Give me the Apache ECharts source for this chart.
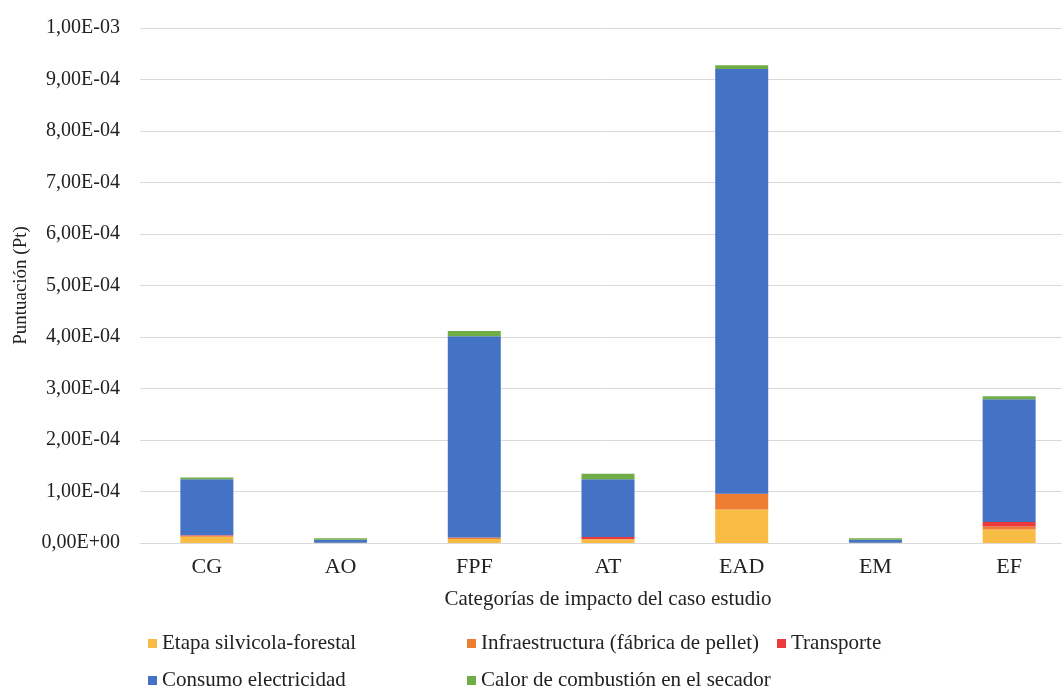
<!DOCTYPE html>
<html>
<head>
<meta charset="utf-8">
<script src="https://cdn.jsdelivr.net/npm/echarts@6/dist/echarts.min.js"></script>
<style>
html,body{margin:0;padding:0;background:#fff;}
#chart{width:1062px;height:688px;}
</style>
</head>
<body>
<div id="chart"></div>
<script>
var categories = ['CG', 'AO', 'FPF', 'AT', 'EAD', 'EM', 'EF'];
var seriesNames = ['Etapa silvicola-forestal', 'Infraestructura (fábrica de pellet)', 'Transporte', 'Consumo electricidad', 'Calor de combustión en el secador'];
var etapa        = [1.2e-5, 2e-7, 8e-6, 6.6e-6, 6.5e-5, 2e-7, 2.6e-5];
var infra        = [2e-6, 1e-7, 2e-6, 1e-6, 3.0e-5, 1e-7, 6e-6];
var transporte   = [1e-6, 1e-7, 5e-7, 4e-6, 5e-7, 1e-7, 9e-6];
var electricidad = [1.09e-4, 6e-6, 3.91e-4, 1.12e-4, 8.25e-4, 6e-6, 2.38e-4];
var calor        = [3e-6, 3e-6, 1e-5, 1.1e-5, 7e-6, 3e-6, 6e-6];
var yMin = 0, yMax = 1e-3, yInterval = 1e-4;

var colors = ['#F8BC45', '#ED7D31', '#EC3A3A', '#4472C4', '#70AD47'];
var dataSets = [etapa, infra, transporte, electricidad, calor];
var font = 'Liberation Serif';

function fmt(v) {
  var s = Number(v).toExponential(2);
  var parts = s.split('e');
  var mant = parts[0].replace('.', ',');
  var ex = parseInt(parts[1], 10);
  var sign = ex < 0 ? '-' : '+';
  var a = Math.abs(ex);
  return mant + 'E' + sign + (a < 10 ? '0' + a : a);
}

var chart = echarts.init(document.getElementById('chart'), null, {renderer: 'canvas'});
var series = seriesNames.map(function (n, i) {
  return {
    name: n,
    type: 'bar',
    stack: 'total',
    barWidth: 53,
    itemStyle: {color: colors[i]},
    data: dataSets[i]
  };
});

var legendText = {fontFamily: font, fontSize: 21, color: '#222'};
var legendPos = [[143, 628], [462, 628], [772, 628], [143, 665], [462, 665]];
var legends = seriesNames.map(function (n, i) {
  return {
    left: legendPos[i][0], top: legendPos[i][1],
    itemWidth: 9, itemHeight: 9, icon: 'rect', itemGap: 5,
    textStyle: legendText, data: [n]
  };
});

chart.setOption({
  animation: false,
  color: colors,
  grid: {left: 140, right: -14, top: 28, bottom: 145, containLabel: false, outerBoundsMode: 'none'},
  xAxis: {
    type: 'category',
    data: categories,
    axisLine: {lineStyle: {color: '#d9d9d9', width: 1}},
    axisTick: {show: false},
    axisLabel: {fontFamily: font, fontSize: 22, color: '#222', margin: 13},
    name: 'Categorías de impacto del caso estudio',
    nameLocation: 'middle',
    nameGap: 46,
    nameTextStyle: {fontFamily: font, fontSize: 21, color: '#222'}
  },
  yAxis: {
    type: 'value',
    min: yMin, max: yMax, interval: yInterval,
    axisLine: {show: false},
    axisTick: {show: false},
    splitLine: {lineStyle: {color: '#d9d9d9', width: 1}},
    axisLabel: {fontFamily: font, fontSize: 20, color: '#222', margin: 20, formatter: fmt},
    name: 'Puntuación (Pt)',
    nameLocation: 'middle',
    nameGap: 109,
    nameRotate: 90,
    nameTextStyle: {fontFamily: font, fontSize: 19, color: '#222'}
  },
  legend: legends,
  series: series
});
</script>
</body>
</html>
